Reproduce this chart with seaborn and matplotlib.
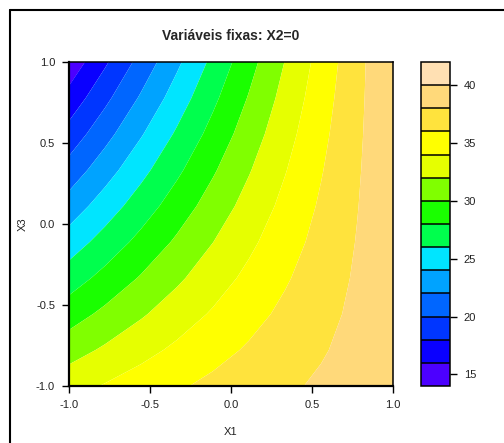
import numpy as np
import pandas as pd
import matplotlib
matplotlib.use("Agg")
import matplotlib.pyplot as plt
from matplotlib.colors import ListedColormap, BoundaryNorm
from matplotlib.lines import Line2D
import seaborn as sns

# fitted second-order model (coded units), X2 held at 0
coef_names = ["b0", "b1", "b3", "b11", "b33", "b13"]
coef_values = [32.3, 7.8, -4.45, -0.6, 0.05, 4.85]

x1_grid = np.linspace(-1, 1, 10)
x3_grid = np.linspace(-1, 1, 10)

levels = [14, 16, 18, 20, 22, 24, 26, 28, 30, 32, 34, 36, 38, 40, 42]
level_colors = ["#4C00FF", "#0A00FF", "#0036FF", "#0066FF", "#00A3FF", "#00E5FF",
                "#00FF4D", "#1AFF00", "#80FF00", "#E6FF00", "#FFFF00", "#FFE33D",
                "#FFD97A", "#FFE0B3"]
cbar_ticks = [15, 20, 25, 30, 35, 40]
axis_ticks = [-1.0, -0.5, 0.0, 0.5, 1.0]
title = "Variáveis fixas: X2=0"

sns.set_theme(style="white")
plt.rcParams["font.family"] = ["Liberation Sans", "DejaVu Sans"]

b = dict(zip(coef_names, coef_values))
X1, X3 = np.meshgrid(x1_grid, x3_grid)
Z = (b["b0"] + b["b1"] * X1 + b["b3"] * X3 + b["b11"] * X1 ** 2
     + b["b33"] * X3 ** 2 + b["b13"] * X1 * X3)

W, H = 504, 443
fig = plt.figure(figsize=(W / 100, H / 100), dpi=100)
fig.patch.set_facecolor("white")

ax = fig.add_axes([69 / W, 1 - 386 / H, 324 / W, 324 / H])
cax = fig.add_axes([421 / W, 1 - 386 / H, 29 / W, 324 / H])

cmap = ListedColormap(level_colors)
norm = BoundaryNorm(levels, cmap.N)
cf = ax.contourf(X1, X3, Z, levels=levels, cmap=cmap, norm=norm, antialiased=True)

ax.set_xlim(-1, 1)
ax.set_ylim(-1, 1)
ax.set_xticks(axis_ticks)
ax.set_yticks(axis_ticks)
ax.set_xticklabels([f"{t:.1f}" for t in axis_ticks])
ax.set_yticklabels([f"{t:.1f}" for t in axis_ticks])
ax.tick_params(axis="both", direction="out", length=5, width=1, color="black",
               labelsize=8, pad=5, bottom=True, left=True, labelcolor="#222222")
for s in ax.spines.values():
    s.set_color("black")
    s.set_linewidth(1.1)
ax.spines["left"].set_linewidth(1.6)
ax.spines["bottom"].set_linewidth(1.6)
ax.set_xlabel("X1", fontsize=8, labelpad=12, color="#222222")
ax.set_ylabel("X3", fontsize=8, labelpad=6, color="#222222")
ax.set_title(title, fontsize=10, fontweight="bold", pad=16)

cbar = fig.colorbar(cf, cax=cax, ticks=cbar_ticks, drawedges=True)
cbar.minorticks_off()
cbar.outline.set_edgecolor("black")
cbar.outline.set_linewidth(1.1)
cbar.dividers.set_color("black")
cbar.dividers.set_linewidth(1.1)
cax.tick_params(axis="y", which="both", direction="out", length=5, width=1,
                color="black", labelsize=8, pad=5, right=True, left=False,
                labelcolor="#222222")

# outer frame (cut by the image edges)
fig.add_artist(Line2D([10 / W, 10 / W], [1 - 10 / H, -0.1], color="black",
                      lw=1.5, transform=fig.transFigure))
fig.add_artist(Line2D([10 / W, 1.1], [1 - 10 / H, 1 - 10 / H], color="black",
                      lw=1.5, transform=fig.transFigure))

fig.savefig("out.png", dpi=100)
